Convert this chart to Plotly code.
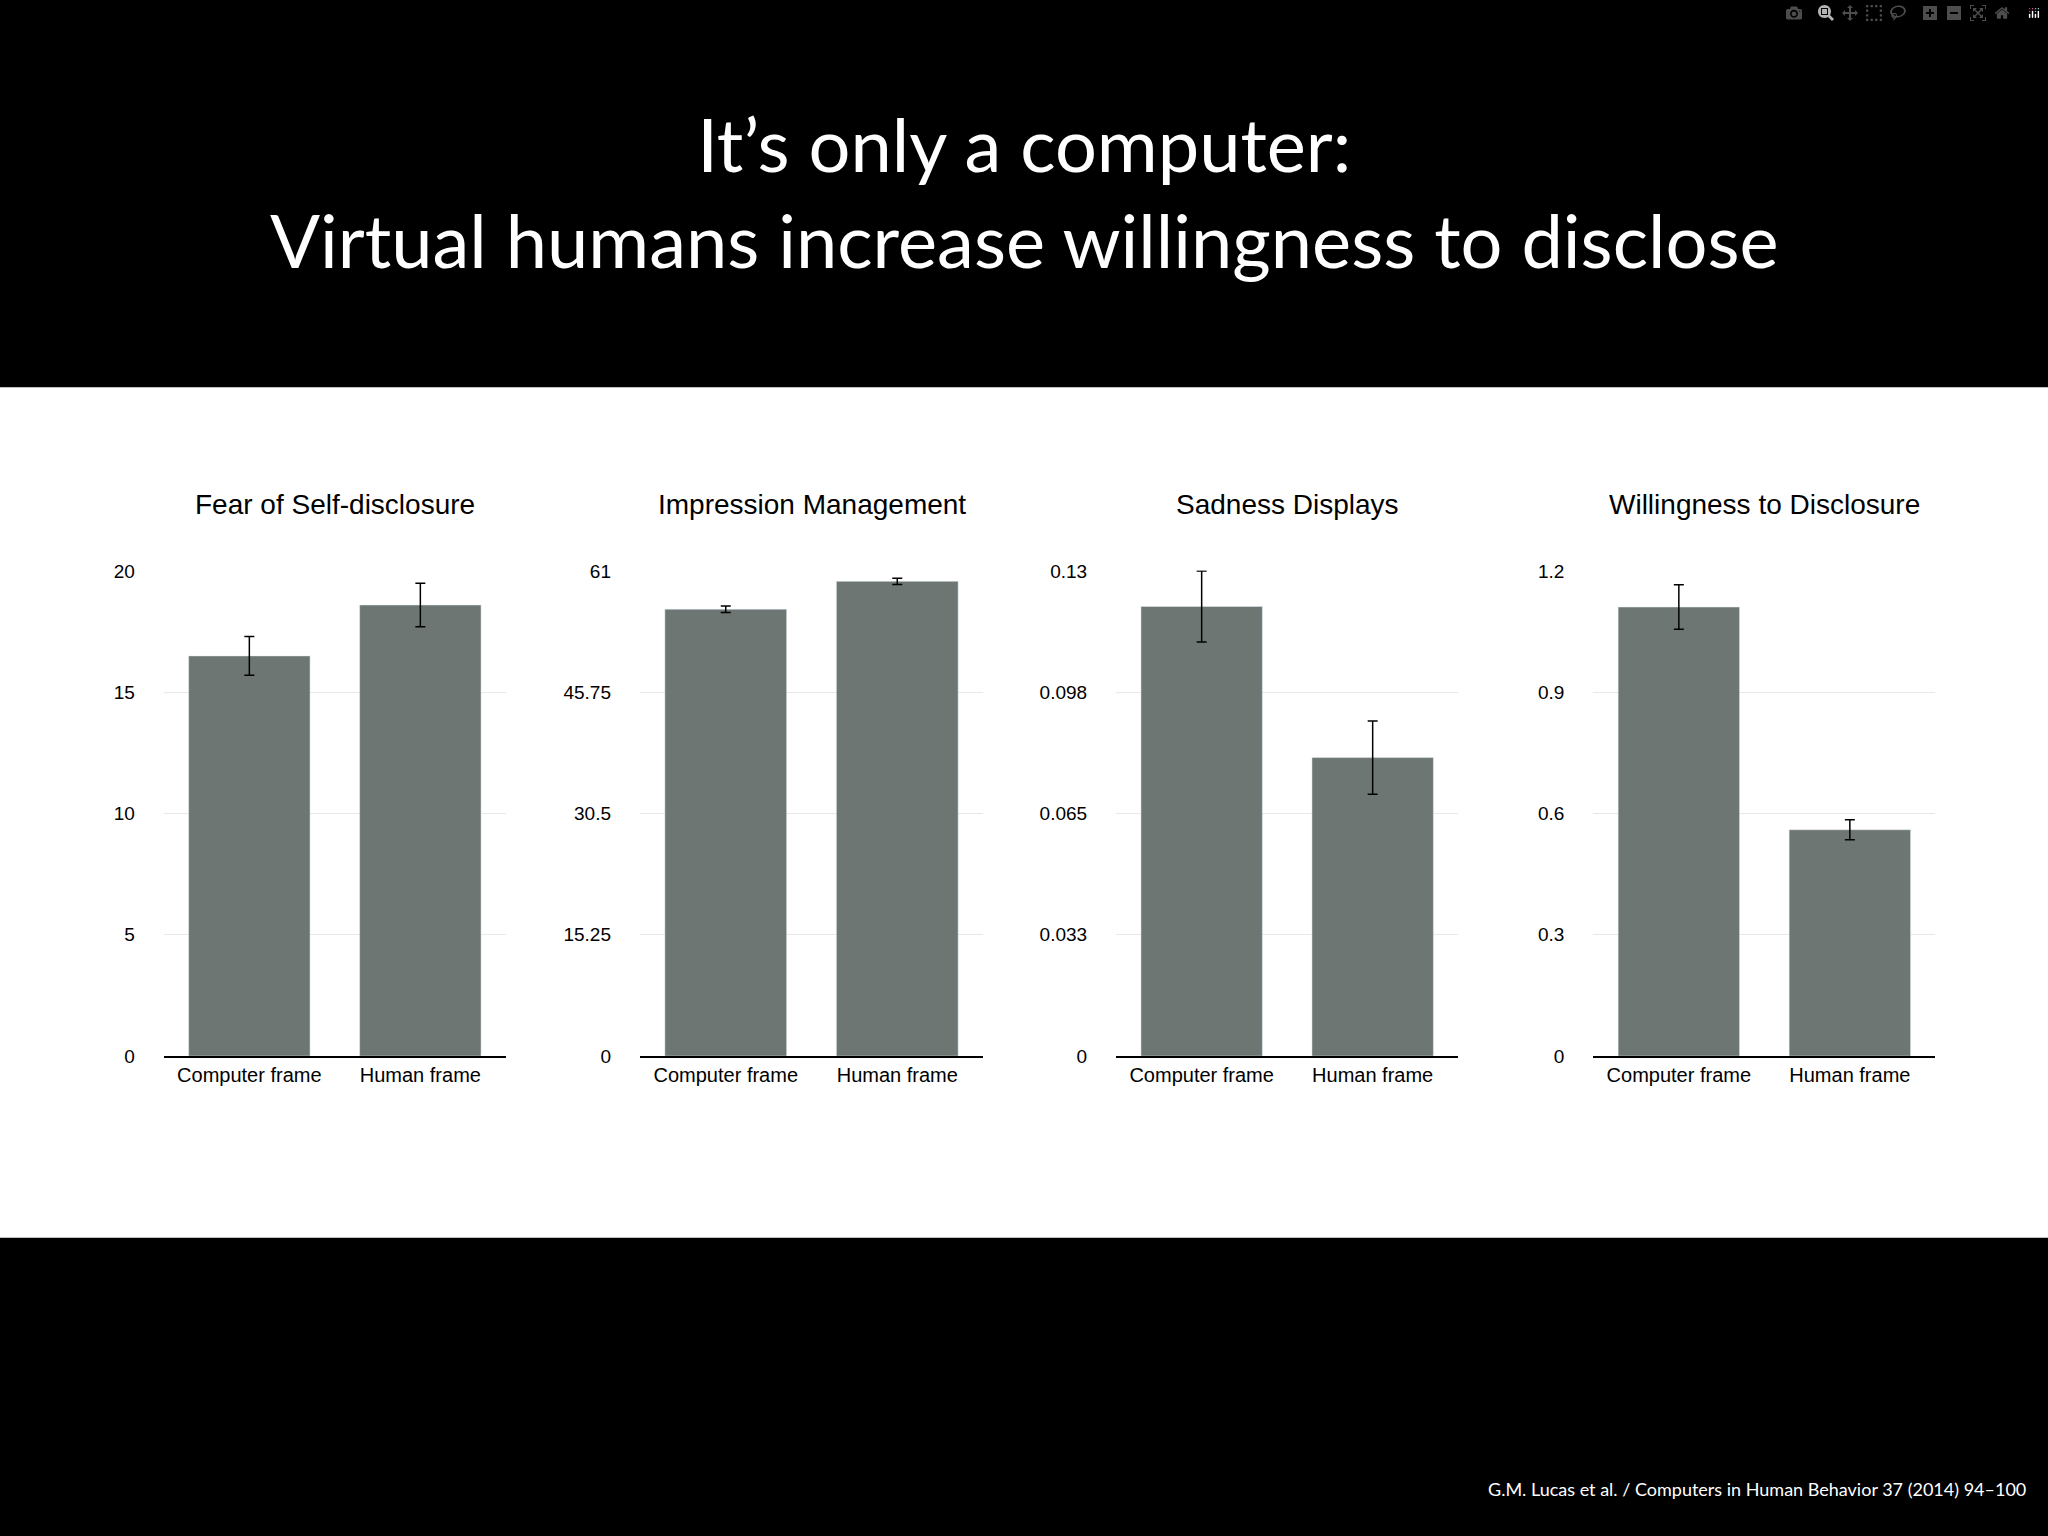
import plotly.graph_objects as go
from plotly.subplots import make_subplots

categories = ["Computer frame", "Human frame"]
panel_titles = ["Fear of Self-disclosure", "Impression Management",
                "Sadness Displays", "Willingness to Disclosure"]
fear_vals = [16.5, 18.6]
fear_err = [0.8, 0.9]
impression_vals = [56.2, 59.7]
impression_err = [0.4, 0.4]
sadness_vals = [0.1205, 0.0800]
sadness_err = [0.0095, 0.0098]
willing_vals = [1.111, 0.560]
willing_err = [0.055, 0.025]
tick_vals = [
    [0, 5, 10, 15, 20],
    [0, 15.25, 30.5, 45.75, 61],
    [0, 0.0325, 0.065, 0.0975, 0.13],
    [0, 0.3, 0.6, 0.9, 1.2],
]
tick_text = [
    ["0", "5", "10", "15", "20"],
    ["0", "15.25", "30.5", "45.75", "61"],
    ["0", "0.033", "0.065", "0.098", "0.13"],
    ["0", "0.3", "0.6", "0.9", "1.2"],
]
series = [(fear_vals, fear_err), (impression_vals, impression_err),
          (sadness_vals, sadness_err), (willing_vals, willing_err)]

fig = make_subplots(rows=1, cols=4)
x_domains = [(0.080, 0.247), (0.3125, 0.480), (0.545, 0.712), (0.778, 0.945)]
y_dom = (0.3095, 0.630)

for i, (vals, errs) in enumerate(series):
    fig.add_trace(go.Bar(
        x=categories, y=vals, width=0.71, marker_color="#6e7673",
        error_y=dict(type="data", array=errs, color="black", thickness=1.5, width=5),
    ), row=1, col=i + 1)
    n = "" if i == 0 else str(i + 1)
    top = tick_vals[i][-1]
    fig.layout["xaxis" + n].update(
        domain=x_domains[i], showline=True, linecolor="black", linewidth=1.5,
        ticks="", tickfont=dict(family="Liberation Sans", size=20, color="black"))
    fig.layout["yaxis" + n].update(
        domain=y_dom, range=[0, top * 1.001], tickvals=tick_vals[i], ticktext=tick_text[i],
        showgrid=True, gridcolor="#e8e8e8", zeroline=False, ticks="",
        ticklabelstandoff=28,
        tickfont=dict(family="Liberation Sans", size=19, color="black"))
    fig.add_annotation(
        text=panel_titles[i], xref="paper", yref="paper",
        x=(x_domains[i][0] + x_domains[i][1]) / 2, y=0.662, xanchor="center",
        yanchor="bottom", showarrow=False,
        font=dict(family="Liberation Sans", size=28, color="black"))

fig.add_shape(type="rect", xref="paper", yref="paper", x0=0, x1=1, y0=0.1896, y1=0.751,
              fillcolor="white", line_width=0, layer="below")

fig.add_annotation(
    text="It’s only a computer:<br>Virtual humans increase willingness to disclose",
    xref="paper", yref="paper", x=0.5, y=0.88, xanchor="center", yanchor="middle",
    showarrow=False, font=dict(family="Lato", size=74, color="white"))
fig.add_annotation(
    text="G.M. Lucas et al. / Computers in Human Behavior 37 (2014) 94–100",
    xref="paper", yref="paper", x=0.99, y=0.015, xanchor="right", yanchor="bottom",
    showarrow=False, font=dict(family="Lato", size=18, color="white"))

fig.update_layout(
    width=2048, height=1536, showlegend=False,
    paper_bgcolor="black", plot_bgcolor="white",
    margin=dict(l=0, r=0, t=0, b=0), bargap=0.29,
)

fig.write_html("out.html",
               post_script="document.body.style.margin='0';document.body.style.background='black';")
